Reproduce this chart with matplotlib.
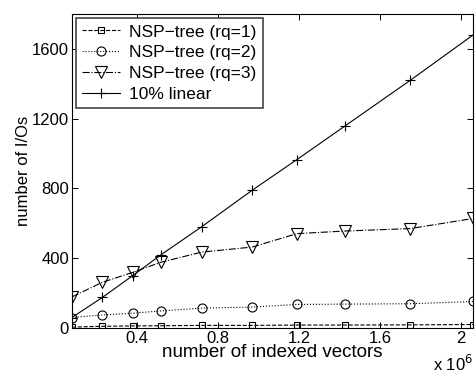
import matplotlib
matplotlib.use('Agg')
import matplotlib.pyplot as plt

plt.rcParams['font.family'] = ['Liberation Sans', 'DejaVu Sans']

# number of indexed vectors (x 10^6)
vectors = [0.08, 0.23, 0.38, 0.52, 0.72, 0.97, 1.19, 1.43, 1.75, 2.06]
rq1 = [5, 10, 12, 13, 15, 15, 17, 17, 18, 20]
rq2 = [60, 75, 85, 98, 114, 120, 135, 137, 139, 152]
rq3 = [178, 262, 319, 377, 435, 464, 541, 556, 570, 628]
linear = [60, 175, 300, 420, 580, 790, 965, 1160, 1420, 1680]

xticks = [0.4, 0.8, 1.2, 1.6, 2.0]
xticklabels = ['0.4', '0.8', '1.2', '1.6', '2']
yticks = [0, 400, 800, 1200, 1600]

fig = plt.figure(figsize=(4.76, 3.75), dpi=100)
ax = fig.add_axes([0.151, 0.1253, 0.843, 0.8374])

lw = 0.8
ax.plot(vectors, rq1, 'k--', marker='s', mfc='none', ms=5, lw=lw, mew=0.8,
        label='NSP\u2212tree (rq=1)')
ax.plot(vectors, rq2, 'k:', marker='o', mfc='none', ms=6.5, lw=lw, mew=0.8,
        label='NSP\u2212tree (rq=2)')
ax.plot(vectors, rq3, 'k-.', marker='v', mfc='none', ms=8, lw=lw, mew=0.8,
        label='NSP\u2212tree (rq=3)')
ax.plot(vectors, linear, 'k-', marker='+', ms=7.5, lw=lw, mew=0.8,
        label='10% linear')

ax.set_xlim(vectors[0], vectors[-1])
ax.set_ylim(0, 1800)
ax.set_xticks(xticks)
ax.set_xticklabels(xticklabels)
ax.set_yticks(yticks)
ax.tick_params(direction='in', top=True, right=True, labelsize=12, length=4,
               width=0.7, pad=2)
for s in ax.spines.values():
    s.set_linewidth(0.8)

ax.set_xlabel('number of indexed vectors', fontsize=13.5, labelpad=-1)
ax.set_ylabel('number of I/Os', fontsize=12, labelpad=1)
fig.text(0.995, 0.003, r'x 10$^{6}$', ha='right', va='bottom', fontsize=12)

leg = ax.legend(loc='upper left', fontsize=12.5, fancybox=False, framealpha=1,
                edgecolor='#444444', borderaxespad=0.25, handlelength=2.2,
                labelspacing=0.32, borderpad=0.35, handletextpad=0.5)
leg.get_frame().set_linewidth(1.2)

fig.savefig('out.png', dpi=100)
